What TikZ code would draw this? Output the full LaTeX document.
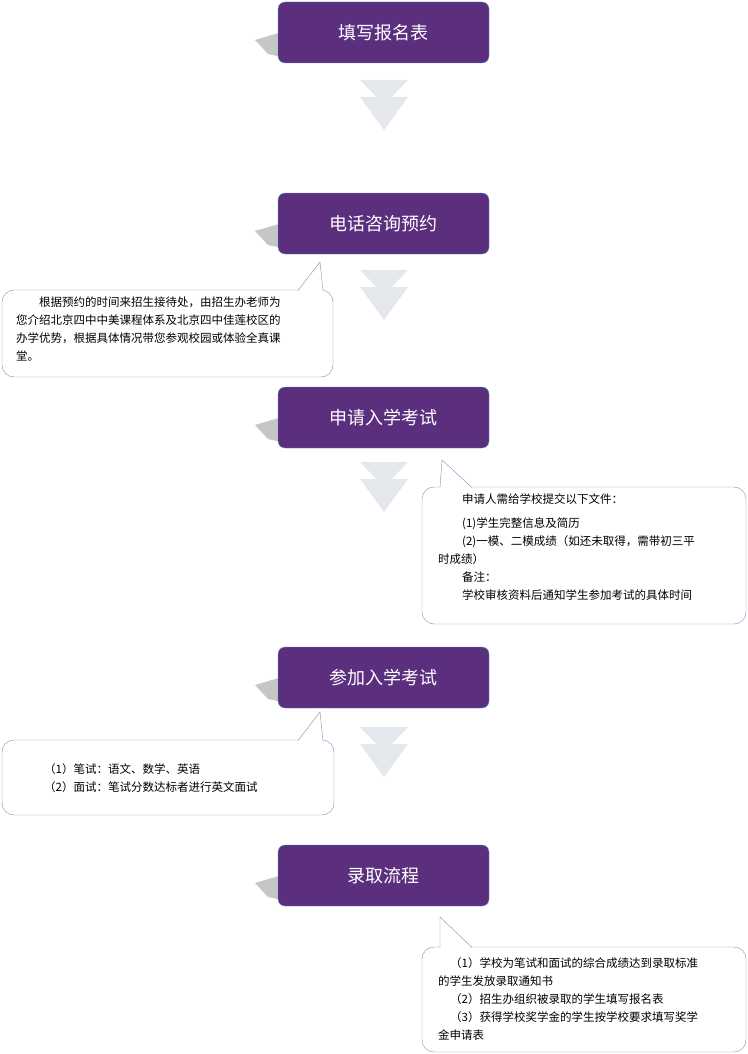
\documentclass[tikz,border=0pt]{standalone}
\usepackage{fontspec}
\setmainfont{Noto Sans CJK SC}
\definecolor{stepfill}{HTML}{5B2E7E}
\definecolor{stepline}{HTML}{4FA3C0}
\definecolor{arrowgray}{HTML}{E4E7EC}
\definecolor{noteline}{HTML}{9384B8}
\tikzset{
  stepbox/.style={draw=stepline,fill=stepfill,rounded corners=7pt,minimum width=211pt,minimum height=61pt,text=white,font=\fontsize{18}{20}\selectfont,inner sep=0pt},
  notetext/.style={font=\fontsize{11.5}{18}\selectfont,align=left,anchor=north west,inner sep=0pt},
  notebox/.style={draw=noteline,fill=white,rounded corners=12pt},
}
% chevron arrow below a step
\newcommand{\chevron}[1]{
  \fill[arrowgray] (360,#1) -- (408,#1) -- (384,#1+25) -- cycle;
  \fill[arrowgray] (360,#1+17) -- (408,#1+17) -- (384,#1+50) -- cycle;
}
% shadow at the left of a step
\newcommand{\stepshadow}[1]{
  \fill[gray!45] (255,#1+38) -- (282,#1+30) -- (282,#1+55) -- (268,#1+52) -- cycle;
}
\begin{document}
\begin{tikzpicture}[x=1pt,y=-1pt]
  \useasboundingbox (0,0) rectangle (747,1054);

  \foreach \y in {2,193,387,647,845} { \stepshadow{\y} }
  \node[stepbox] (apply) at (383.5,32.5) {填写报名表};
  \node[stepbox] (call) at (383.5,223.5) {电话咨询预约};
  \node[stepbox] (exam) at (383.5,417.5) {申请入学考试};
  \node[stepbox] (test) at (383.5,677.5) {参加入学考试};
  \node[stepbox] (admit) at (383.5,875.5) {录取流程};

  \foreach \y in {80,270,462,727} { \chevron{\y} }

  % callouts
  \draw[notebox] (2,290) rectangle (333,377);
  \fill[white] (298,291) -- (320,262) -- (323,291) -- cycle;
  \draw[noteline] (298,290.5) -- (320,262) -- (323,290.5);
  \node[notetext] (visit) at (16,297) {\hspace{23pt}根据预约的时间来招生接待处，由招生办老师为\\您介绍北京四中中美课程体系及北京四中佳莲校区的\\办学优势，根据具体情况带您参观校园或体验全真课\\堂。};

  \draw[notebox] (422,487) rectangle (746,624);
  \fill[white] (440,488) -- (442,460) -- (472,488) -- cycle;
  \draw[noteline] (440,487.5) -- (442,460) -- (472,487.5);
  \node[notetext] (docs) at (438,494) {\hspace{24pt}申请人需给学校提交以下文件：\\[6pt]\hspace{24pt}(1)学生完整信息及简历\\\hspace{24pt}(2)一模、二模成绩（如还未取得，需带初三平\\时成绩）\\\hspace{24pt}备注：\\\hspace{24pt}学校审核资料后通知学生参加考试的具体时间};

  \draw[notebox] (2,740) rectangle (334,815);
  \fill[white] (298,741) -- (320,712) -- (323,741) -- cycle;
  \draw[noteline] (298,740.5) -- (320,712) -- (323,740.5);
  \node[notetext] (written) at (44,763) {（1）笔试：语文、数学、英语\\（2）面试：笔试分数达标者进行英文面试};

  \draw[notebox] (422,947) rectangle (746,1052);
  \fill[white] (440,948) -- (440,917) -- (472,948) -- cycle;
  \draw[noteline] (440,947.5) -- (440,917) -- (472,947.5);
  \node[notetext] (offer) at (438,957) {\hspace{12pt}（1）学校为笔试和面试的综合成绩达到录取标准\\的学生发放录取通知书\\\hspace{12pt}（2）招生办组织被录取的学生填写报名表\\\hspace{12pt}（3）获得学校奖学金的学生按学校要求填写奖学\\金申请表};
\end{tikzpicture}
\end{document}
